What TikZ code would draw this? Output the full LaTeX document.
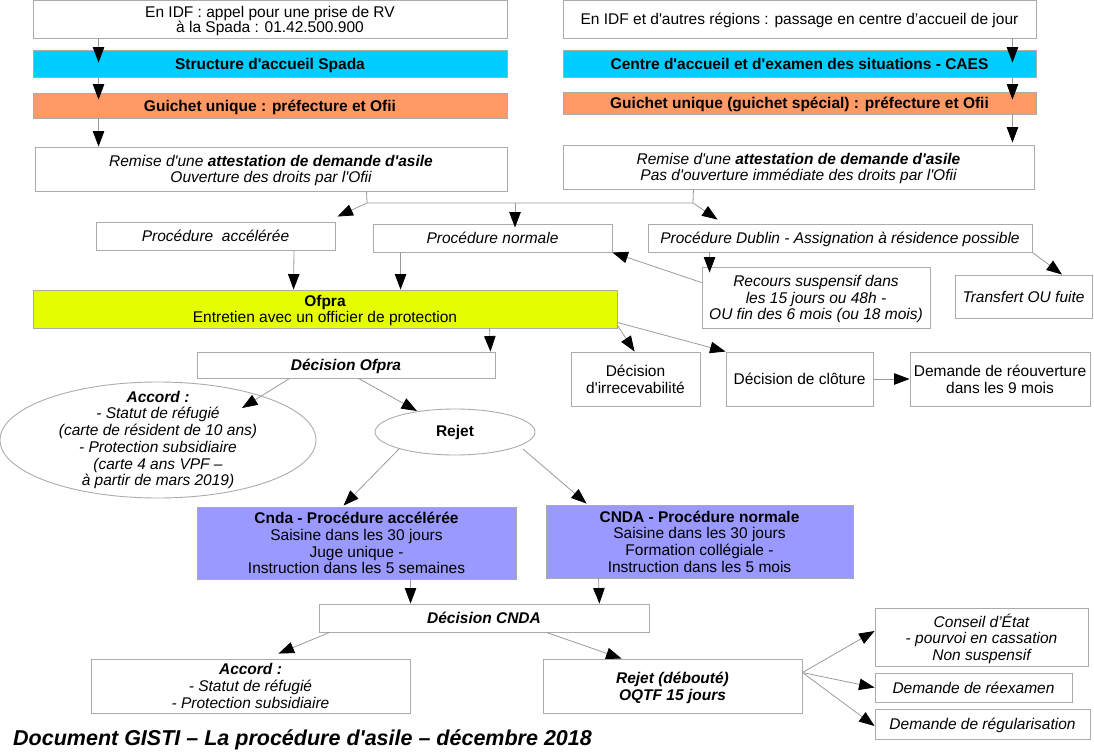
\documentclass[tikz,border=0pt]{standalone}
\usepackage{fontspec}
\newfontfamily\arialfont{Liberation Sans}
\newcommand\gistifont{\arialfont\fontsize{15.5}{16.7}\selectfont}
\usetikzlibrary{arrows.meta,shapes.geometric}
\definecolor{spadablue}{HTML}{00CCFF}
\definecolor{guichetorange}{HTML}{FF9966}
\definecolor{ofprayellow}{HTML}{E6FF00}
\definecolor{cndaviolet}{HTML}{9999FF}
\definecolor{edgegray}{HTML}{ABABAB}
\definecolor{linegray}{HTML}{9A9A9A}

\begin{document}
\begin{tikzpicture}[x=1pt,y=-1pt,font=\gistifont]

    % style of the boxes
    \tikzstyle{box}=[draw=edgegray,line width=0.9pt,fill=white,align=center,inner sep=1pt,text depth=0pt]
    \tikzstyle{itbox}=[box,font=\gistifont\itshape]
    \tikzstyle{bluebox}=[box,fill=spadablue,font=\gistifont\bfseries]
    \tikzstyle{orangebox}=[box,fill=guichetorange,font=\gistifont\bfseries]
    \tikzstyle{yellowbox}=[box,fill=ofprayellow]
    \tikzstyle{violetbox}=[box,fill=cndaviolet]
    \tikzstyle{oval}=[draw=edgegray,line width=0.9pt]
    % style of the connectors
    \tikzstyle{link}=[draw=linegray,line width=0.8pt]
    \tikzstyle{flow}=[link,-{Triangle[length=15.5pt,width=11.5pt,color=black,fill=black]}]

    \useasboundingbox (0,0) rectangle (1094,752);

    % left column
    \node[box,minimum width=474pt,minimum height=38pt] (idf) at (270,19) {En IDF : appel pour une prise de RV\\[-1.7pt]à la Spada : 01.42.500.900};
    \node[bluebox,minimum width=474pt,minimum height=27pt] (spada) at (270,63.5) {Structure d'accueil Spada};
    \node[orangebox,minimum width=474pt,minimum height=25pt] (guichet) at (270,105.5) {Guichet unique : préfecture et Ofii};
    \node[itbox,minimum width=472pt,minimum height=44pt] (remise) at (271,169) {Remise d'une \textbf{attestation de demande d'asile}\\Ouverture des droits par l'Ofii};

    % right column
    \node[box,minimum width=473pt,minimum height=38pt] (idfb) at (799.5,19) {En IDF et d'autres régions : passage en centre d’accueil de jour};
    \node[bluebox,minimum width=473pt,minimum height=27pt] (caes) at (799.5,63.5) {Centre d'accueil et d'examen des situations - CAES};
    \node[orangebox,minimum width=473pt,minimum height=22pt] (guichetb) at (799.5,103) {Guichet unique (guichet spécial) : préfecture et Ofii};
    \node[itbox,minimum width=471pt,minimum height=44pt] (remiseb) at (798.5,167) {Remise d'une \textbf{attestation de demande d'asile}\\Pas d'ouverture immédiate des droits par l'Ofii};

    % procedures
    \node[itbox,minimum width=239pt,minimum height=28pt] (accel) at (215.5,236) {Procédure~~accélérée};
    \node[itbox,minimum width=239pt,minimum height=28pt] (normale) at (492.5,238) {Procédure normale};
    \node[itbox,minimum width=384pt,minimum height=28pt] (dublin) at (840,238) {Procédure Dublin - Assignation à résidence possible};
    \node[itbox,minimum width=228pt,minimum height=61pt] (recours) at (816,297.5) {Recours suspensif dans\\les 15 jours ou 48h -\\OU fin des 6 mois (ou 18 mois)};
    \node[itbox,minimum width=137pt,minimum height=43pt] (transfert) at (1023.5,296.5) {Transfert OU fuite};

    % Ofpra
    \node[yellowbox,minimum width=584pt,minimum height=38pt] (ofpra) at (325,309) {\textbf{Ofpra}\\Entretien avec un officier de protection};
    \node[box,font=\gistifont\bfseries\itshape,minimum width=298pt,minimum height=26pt] (dofpra) at (346,365) {Décision Ofpra};
    \node[box,minimum width=129pt,minimum height=54pt] (irrecev) at (635.5,379) {Décision\\d'irrecevabilité};
    \node[box,minimum width=147pt,minimum height=54pt] (cloture) at (799.5,379) {Décision de clôture};
    \node[box,minimum width=180pt,minimum height=54pt] (reouv) at (1000,379) {Demande de réouverture\\dans les 9 mois};
    \node[align=center,font=\gistifont\itshape,inner sep=0pt] (accordofpra) at (158,440) {\textbf{Accord :}\\- Statut de réfugié\\(carte de résident de 10 ans)\\- Protection subsidiaire\\(carte 4 ans VPF –\\à partir de mars 2019)};
    \draw[oval] (accordofpra.center) ellipse [x radius=158, y radius=58];
    \node[oval,ellipse,font=\gistifont\bfseries,minimum width=160pt,minimum height=46pt] (rejet) at (455,432) {Rejet};

    % CNDA
    \node[violetbox,minimum width=319pt,minimum height=72pt] (cndaacc) at (356.5,543) {\textbf{Cnda - Procédure accélérée}\\Saisine dans les 30 jours\\Juge unique -\\Instruction dans les 5 semaines};
    \node[violetbox,minimum width=307pt,minimum height=73pt] (cndanorm) at (699.5,541.5) {\textbf{CNDA - Procédure normale}\\Saisine dans les 30 jours\\Formation collégiale -\\Instruction dans les 5 mois};
    \node[box,font=\gistifont\bfseries\itshape,minimum width=330pt,minimum height=28pt] (dcnda) at (484,618) {Décision CNDA};
    \node[itbox,minimum width=319pt,minimum height=54pt] (accordcnda) at (250.5,686) {\textbf{Accord :}\\- Statut de réfugié\\- Protection subsidiaire};
    \node[box,font=\gistifont\bfseries\itshape,minimum width=259pt,minimum height=54pt] (rejetcnda) at (672.5,686) {Rejet (débouté)\\OQTF 15 jours};
    \node[itbox,minimum width=213pt,minimum height=58pt] (conseil) at (981.5,637) {Conseil d’État\\- pourvoi en cassation\\Non suspensif};
    \node[itbox,minimum width=197pt,minimum height=29pt] (reexamen) at (973.5,687.5) {Demande de réexamen};
    \node[itbox,minimum width=215pt,minimum height=30pt] (regul) at (982.5,724) {Demande de régularisation};

    \node[anchor=west,inner sep=0pt,font=\arialfont\fontsize{21.5}{24}\selectfont\bfseries\itshape] (titre) at (13,740) {Document GISTI – La procédure d'asile – décembre 2018};

    % connectors, top
    \draw[flow,shorten >=-13pt] ([xshift=66pt]idf.south west) -- ([xshift=66pt]spada.north west);
    \draw[flow,shorten >=-7pt] ([xshift=66pt]spada.south west) -- ([xshift=66pt]guichet.north west);
    \draw[flow] ([xshift=66pt]guichet.south west) -- ([xshift=64pt]remise.north west);
    \draw[flow,shorten >=-13pt] ([xshift=-24pt]idfb.south east) -- ([xshift=-24pt]caes.north east);
    \draw[flow,shorten >=-8pt] ([xshift=-24pt]caes.south east) -- ([xshift=-24pt]guichetb.north east);
    \draw[flow] ([xshift=-24pt]guichetb.south east) -- ([xshift=-22pt,yshift=2pt]remiseb.north east);

    % fork towards the procedures
    \coordinate (forka) at (367,203);
    \coordinate (forkc) at (515,203);
    \coordinate (forkb) at (693,203);
    \draw[link] ([xshift=332pt]remise.south west) -- (forka) -- (forkb) -- ([xshift=-341pt]remiseb.south east);
    \draw[flow] (forka) -- ([xshift=2pt,yshift=5pt]accel.north east);
    \draw[flow,shorten >=-4pt] (forkc) -- ([xshift=22.5pt]normale.north);
    \draw[flow] (forkb) -- ([xshift=70pt,yshift=4pt]dublin.north west);

    % Dublin
    \draw[flow,shorten >=-6pt] ([xshift=62pt]dublin.south west) -- ([xshift=8pt]recours.north west);
    \draw[flow] ([yshift=-16pt]recours.north west) -- (normale.south east);
    \draw[flow] (dublin.south east) -- ([xshift=38.5pt]transfert.north);

    % Ofpra
    \draw[flow] ([xshift=78.5pt]accel.south) -- ([xshift=261pt]ofpra.north west);
    \draw[flow] ([xshift=28pt]normale.south west) -- ([xshift=368pt]ofpra.north west);
    \draw[flow] ([xshift=457pt]ofpra.south west) -- ([xshift=-5pt]dofpra.north east);
    \draw[flow] ([yshift=3pt]ofpra.south east) -- ([xshift=64pt]irrecev.north west);
    \draw[flow] ([yshift=6pt]ofpra.south east) -- (cloture.north west);
    \draw[flow] (cloture.east) -- (reouv.west);
    \draw[flow] ([xshift=93pt]dofpra.south west) -- ([shift={(84pt,32pt)}]accordofpra.center);
    \draw[flow] ([xshift=162pt]dofpra.south west) -- ([shift={(-38pt,21pt)}]rejet.center);

    % CNDA
    \draw[flow] ([shift={(-56pt,-17pt)}]rejet.center) -- ([xshift=147pt,yshift=1pt]cndaacc.north west);
    \draw[flow] ([shift={(68pt,-17pt)}]rejet.center) -- ([xshift=41pt,yshift=1pt]cndanorm.north west);
    \draw[flow] ([xshift=214pt]cndaacc.south west) -- ([xshift=92pt]dcnda.north west);
    \draw[flow] ([xshift=53pt]cndanorm.south west) -- ([xshift=-50pt]dcnda.north east);
    \draw[flow] ([xshift=11pt]dcnda.south west) -- ([xshift=188pt,yshift=5pt]accordcnda.north west);
    \draw[flow] ([xshift=228pt]dcnda.south west) -- ([xshift=79pt]rejetcnda.north west);
    \draw[flow] ([yshift=-14pt]rejetcnda.north east) -- ([yshift=6pt]conseil.west);
    \draw[flow] ([yshift=-14pt]rejetcnda.north east) -- (reexamen.west);
    \draw[flow] ([yshift=-14pt]rejetcnda.north east) -- ([yshift=-2pt]regul.west);

\end{tikzpicture}
\end{document}
